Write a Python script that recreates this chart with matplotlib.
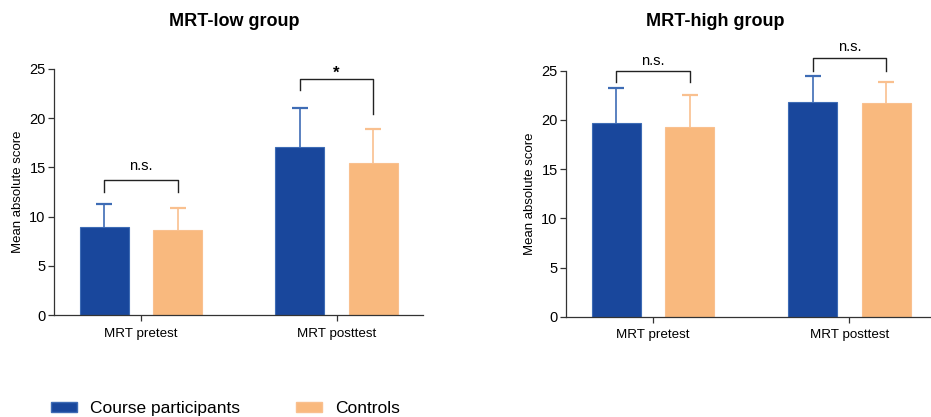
import matplotlib
matplotlib.use('Agg')
import matplotlib.pyplot as plt
from matplotlib.patches import Patch
import numpy as np

plt.rcParams['font.family'] = ['Liberation Sans', 'DejaVu Sans']

# 数据
categories = ['MRT pretest', 'MRT posttest']
groups = ['Course participants', 'Controls']
low_means = {'Course participants': [8.9, 17.1], 'Controls': [8.6, 15.4]}
low_errs = {'Course participants': [2.4, 3.9], 'Controls': [2.3, 3.5]}
high_means = {'Course participants': [19.7, 21.8], 'Controls': [19.3, 21.7]}
high_errs = {'Course participants': [3.5, 2.7], 'Controls': [3.2, 2.2]}
low_sig = ['n.s.', '*']
high_sig = ['n.s.', 'n.s.']

bar_colors = {'Course participants': '#19479c', 'Controls': '#f9b97e'}
err_colors = {'Course participants': '#3e6cb5', 'Controls': '#f9c08f'}
offsets = {'Course participants': -0.1875, 'Controls': 0.1875}
bar_w = 0.25


def draw_panel(ax, means, errs):
    x = np.arange(len(categories))
    for g in groups:
        ax.bar(x + offsets[g], means[g], width=bar_w, color=bar_colors[g],
               edgecolor=err_colors[g], linewidth=0.8, zorder=2)
        yerr = [np.zeros(len(x)), errs[g]]
        _, caps, _ = ax.errorbar(x + offsets[g], means[g], yerr=yerr, fmt='none',
                                 ecolor=err_colors[g], elinewidth=1.2, capsize=6,
                                 capthick=1.6, zorder=1)
        caps[0].set_visible(False)  # 只保留上方的 cap
    ax.set_xlim(-0.444, 1.44)
    ax.set_ylim(0, 25)
    ax.set_yticks([0, 5, 10, 15, 20, 25])
    ax.set_xticks(x)
    ax.set_xticklabels(categories, fontsize=9.6)
    ax.tick_params(axis='y', labelsize=10.5, length=4, width=0.9, color='#333333', pad=2)
    ax.tick_params(axis='x', length=4, width=0.9, color='#333333', pad=5)
    for s in ['top', 'right']:
        ax.spines[s].set_visible(False)
    for s in ['left', 'bottom']:
        ax.spines[s].set_color('#333333')
        ax.spines[s].set_linewidth(0.9)
    ax.set_ylabel('Mean absolute score', fontsize=9.5, labelpad=4)


def bracket(ax, x1, x2, top, left_end, right_end, label, text_y):
    ax.plot([x1, x1, x2, x2], [left_end, top, top, right_end], color='#222222',
            linewidth=1.0, clip_on=False, zorder=3)
    star = label == '*'
    ax.text((x1 + x2) / 2, text_y, label, ha='center', va='center',
            fontsize=12 if star else 10.5, fontweight='bold' if star else 'normal',
            clip_on=False)


fig = plt.figure(figsize=(9.31, 4.17), dpi=100)
ax1 = fig.add_axes([0.058, 0.2446, 0.396, 0.590])
ax2 = fig.add_axes([0.608, 0.2405, 0.397, 0.590])

draw_panel(ax1, low_means, low_errs)
draw_panel(ax2, high_means, high_errs)
fig.text(0.252, 0.948, 'MRT-low group', ha='center', va='center', fontsize=13, fontweight='bold')
fig.text(0.768, 0.948, 'MRT-high group', ha='center', va='center', fontsize=13, fontweight='bold')

# 显著性标记
bracket(ax1, -0.1875, 0.1875, 13.7, 12.5, 12.5, low_sig[0], 15.1)
bracket(ax1, 0.8125, 1.1875, 24.0, 22.9, 20.4, low_sig[1], 24.6)
bracket(ax2, -0.1875, 0.1875, 25.0, 23.8, 23.8, high_sig[0], 26.0)
bracket(ax2, 0.8125, 1.1875, 26.3, 25.0, 25.0, high_sig[1], 27.4)

handles = [Patch(facecolor=bar_colors[g], edgecolor=err_colors[g]) for g in groups]
fig.legend(handles, groups, loc='lower left', bbox_to_anchor=(0.038, -0.035), ncol=2,
           frameon=False, fontsize=12.5, handlelength=1.5, handleheight=0.5,
           handletextpad=0.75, columnspacing=3.2)

fig.savefig('out.png', dpi=100)
